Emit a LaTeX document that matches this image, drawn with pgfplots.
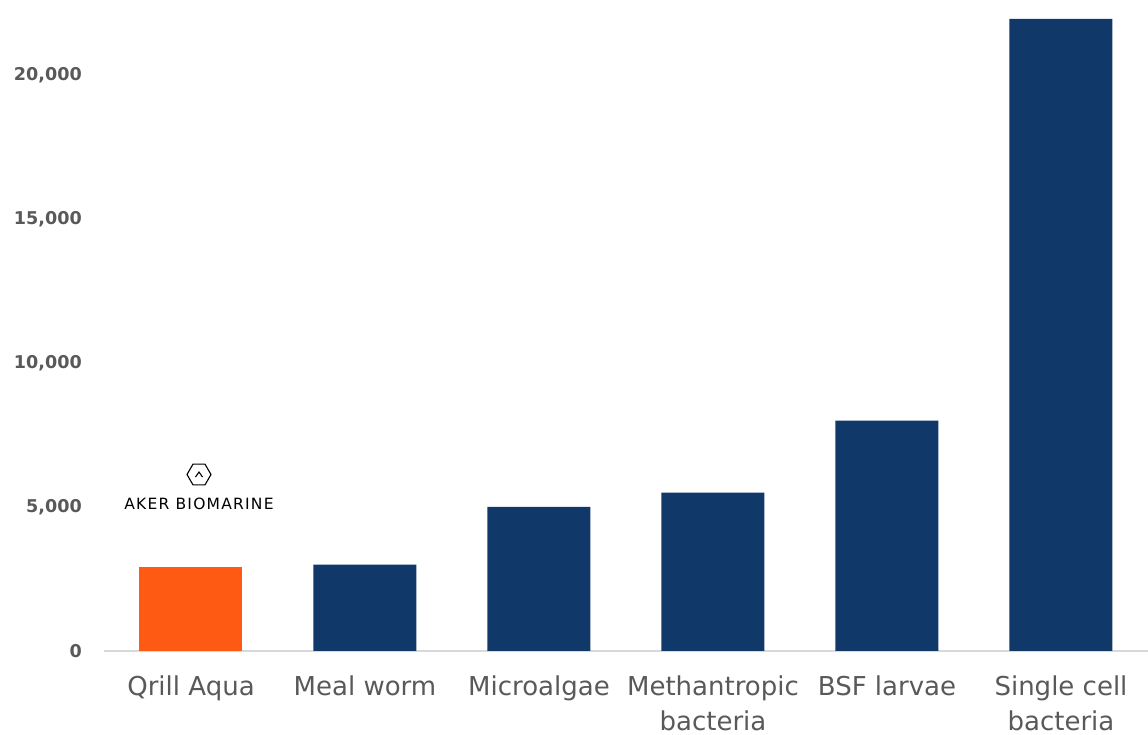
\documentclass[border=0pt]{standalone}
\usepackage{pgfplots}
\pgfplotsset{compat=1.18}
\usepackage{fontspec}
\setmainfont{DejaVu Sans}
\newfontfamily\logofont[LetterSpace=8]{DejaVu Sans}
\usetikzlibrary{shapes.geometric}

\definecolor{barblue}{HTML}{10396A}
\definecolor{qrill}{HTML}{FF5A14}
\definecolor{labelgray}{HTML}{595959}
\definecolor{linegray}{HTML}{D9D9D9}

\begin{document}
\begin{tikzpicture}
\begin{axis}[
    ybar, bar shift=0pt, bar width=103pt,
    width=1044pt, height=651pt, scale only axis=true,
    xmin=-0.5, xmax=5.5, ymin=0, ymax=22604,
    axis x line*=bottom, axis y line*=left,
    x axis line style={draw=linegray, line width=1.5pt},
    y axis line style={draw=none},
    major tick length=0pt,
    xtick={0,1,2,3,4,5},
    xticklabels={Qrill Aqua, Meal worm, Microalgae, Methantropic\\bacteria, BSF larvae, Single cell\\bacteria},
    xticklabel style={font=\fontsize{26}{35}\selectfont, text=labelgray, align=center, anchor=north, inner sep=0pt, yshift=-25pt},
    ytick={0,5000,10000,15000,20000},
    scaled y ticks=false,
    yticklabel style={font=\fontsize{17.6}{20}\selectfont\bfseries, text=labelgray, anchor=east, inner sep=0pt, xshift=-22pt,
        /pgf/number format/.cd, 1000 sep={,}, assume math mode=true},
    clip=false,
]
\addplot[fill=qrill, draw=none] coordinates {(0,2900)};
\addplot[fill=barblue, draw=none] coordinates {
    (1,3000)
    (2,5000)
    (3,5500)
    (4,8000)
    (5,21950)
};
% logo above the Qrill bar
\node[regular polygon, regular polygon sides=6, draw=black, line width=1.1pt, minimum size=24pt, inner sep=0pt] at (axis cs:0.046,6128) {};
\draw[line width=1.1pt] (axis cs:0.046,6128) ++(-3.5pt,-2.5pt) -- ++(3.5pt,5pt) -- ++(3.5pt,-5pt);
\node[font=\logofont\fontsize{15.5}{17}\selectfont, text=black, inner sep=0pt] at (axis cs:0.046,5120) {AKER BIOMARINE};
\end{axis}
\pgfresetboundingbox
\useasboundingbox (-104pt,-84pt) rectangle (1044pt,651pt);
\end{tikzpicture}
\end{document}
